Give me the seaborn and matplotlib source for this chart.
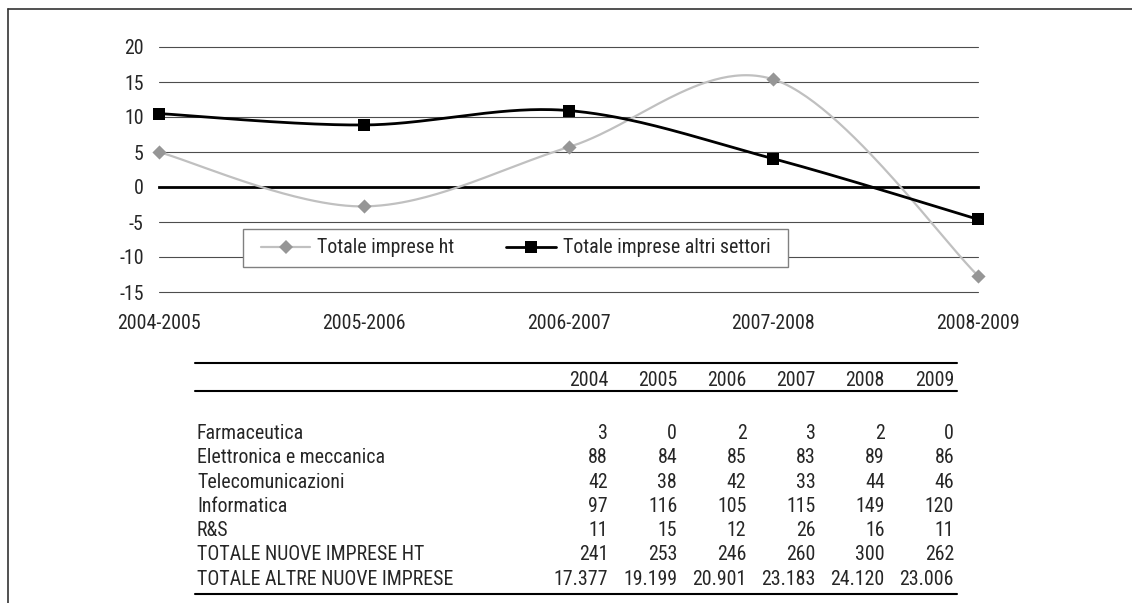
import numpy as np
import pandas as pd
import matplotlib
matplotlib.use("Agg")
import matplotlib.pyplot as plt
from matplotlib.lines import Line2D
from matplotlib.patches import Rectangle
import seaborn as sns

# Growth rates (%) of new firms, year over year
periods = ["2004-2005", "2005-2006", "2006-2007", "2007-2008", "2008-2009"]
ht_growth = [4.98, -2.77, 5.69, 15.38, -12.67]
other_growth = [10.49, 8.86, 10.92, 4.04, -4.62]
series_names = ["Totale imprese ht", "Totale imprese altri settori"]

# New firms by sector and year
years = ["2004", "2005", "2006", "2007", "2008", "2009"]
sectors = ["Farmaceutica", "Elettronica e meccanica", "Telecomunicazioni",
           "Informatica", "R&S", "TOTALE NUOVE IMPRESE HT",
           "TOTALE ALTRE NUOVE IMPRESE"]
farmaceutica = [3, 0, 2, 3, 2, 0]
elettronica = [88, 84, 85, 83, 89, 86]
telecomunicazioni = [42, 38, 42, 33, 44, 46]
informatica = [97, 116, 105, 115, 149, 120]
ricerca = [11, 15, 12, 26, 16, 11]
totale_ht = [241, 253, 246, 260, 300, 262]
totale_altre = [17377, 19199, 20901, 23183, 24120, 23006]
table_rows = [farmaceutica, elettronica, telecomunicazioni, informatica,
              ricerca, totale_ht, totale_altre]

W, H = 1132, 603
sns.set_style("white")
plt.rcParams["font.family"] = ["Roboto Condensed", "Liberation Sans", "DejaVu Sans"]
plt.rcParams["axes.unicode_minus"] = False
FS = 14.3


def fig_xy(x, y):
    return x / W, 1 - y / H


def smooth_curve(values, steps=60):
    """Cardinal (Catmull-Rom) Bezier through the points, like a smoothed line chart."""
    y = np.asarray(values, float)
    x = np.arange(len(y), dtype=float)
    px = np.concatenate([[x[0]], x, [x[-1]]])
    py = np.concatenate([[y[0]], y, [y[-1]]])
    t = np.linspace(0, 1, steps)[:, None]
    pts = []
    for i in range(len(y) - 1):
        p_prev = np.array([px[i], py[i]])
        p0 = np.array([px[i + 1], py[i + 1]])
        p1 = np.array([px[i + 2], py[i + 2]])
        p_next = np.array([px[i + 3], py[i + 3]])
        c1 = p0 + (p1 - p_prev) / 6
        c2 = p1 - (p_next - p0) / 6
        seg = ((1 - t) ** 3) * p0 + 3 * ((1 - t) ** 2) * t * c1 \
            + 3 * (1 - t) * t ** 2 * c2 + t ** 3 * p1
        pts.append(seg if i == 0 else seg[1:])
    pts = np.vstack(pts)
    return pd.DataFrame({"pos": pts[:, 0], "value": pts[:, 1]})


fig = plt.figure(figsize=(W / 100, H / 100), dpi=100)
ax = fig.add_axes([159 / W, 1 - 292 / H, (978 - 159) / W, (292 - 47) / H])

ht_color_line, ht_color_mark = "#c0c0c0", "#969696"
other_color = "#000000"

sns.lineplot(data=smooth_curve(ht_growth), x="pos", y="value", sort=False,
             estimator=None, color=ht_color_line, linewidth=1.6, ax=ax, zorder=3)
sns.lineplot(data=smooth_curve(other_growth), x="pos", y="value", sort=False,
             estimator=None, color=other_color, linewidth=2.0, ax=ax, zorder=4)
pos = np.arange(len(periods))
sns.scatterplot(x=pos, y=ht_growth, marker="D", s=52, color=ht_color_mark,
                linewidth=0, ax=ax, zorder=5, clip_on=False)
sns.scatterplot(x=pos, y=other_growth, marker="s", s=85, color=other_color,
                linewidth=0, ax=ax, zorder=6, clip_on=False)

ax.set_xlim(0, len(periods) - 1)
ax.set_ylim(-15, 20)
yt = list(range(-15, 25, 5))
ax.set_yticks(yt, labels=[str(v) for v in yt])
ax.yaxis.grid(True, color="#4d4d4d", linewidth=0.8)
for gl in ax.get_ygridlines():
    gl.set_clip_on(False)
ax.xaxis.grid(False)
ax.set_axisbelow(True)
ax.tick_params(axis="y", length=0, pad=11, labelsize=FS)
for side in ("left", "right", "top"):
    ax.spines[side].set_visible(False)
ax.spines["bottom"].set_position(("data", 0))
ax.spines["bottom"].set_color("black")
ax.spines["bottom"].set_linewidth(2)
ax.spines["bottom"].set_zorder(2.5)
ax.set_xticks(pos)
ax.tick_params(axis="x", direction="inout", length=14, width=2, color="black",
               labelbottom=False)
ax.set_xlabel("")
ax.set_ylabel("")

sec = ax.secondary_xaxis(0.0)
sec.set_xticks(pos, labels=periods)
sec.tick_params(length=0, pad=16, labelsize=FS)
for sp in sec.spines.values():
    sp.set_visible(False)

# Legend box
lx0, ly0 = fig_xy(243, 267)
lx1, ly1 = fig_xy(788, 229)
fig.add_artist(Rectangle((lx0, ly0), lx1 - lx0, ly1 - ly0, transform=fig.transFigure,
                         facecolor="white", edgecolor="#808080", linewidth=1, zorder=5))
handles = [
    Line2D([], [], color=ht_color_line, lw=1.6, marker="D", markersize=7.2,
           markerfacecolor=ht_color_mark, markeredgewidth=0),
    Line2D([], [], color=other_color, lw=2.0, marker="s", markersize=9.2,
           markerfacecolor=other_color, markeredgewidth=0),
]
fig.legend(handles, series_names, loc="center",
           bbox_to_anchor=((lx0 + lx1) / 2, (ly0 + ly1) / 2),
           ncol=2, frameon=False, fontsize=FS, handlelength=2.5,
           handletextpad=0.35, columnspacing=2.6, borderpad=0, borderaxespad=0)

# Outer frame (top and left edges)
fig.add_artist(Line2D([8 / W, 1], [1 - 9 / H] * 2, transform=fig.transFigure,
                      color="#333333", lw=1.2))
fig.add_artist(Line2D([8 / W, 8 / W], [0, 1 - 9 / H], transform=fig.transFigure,
                      color="#333333", lw=1.2))

# Data table
tx0, tx1 = 195, 957
for yy in (363, 391, 594):
    fig.add_artist(Line2D([tx0 / W, tx1 / W], [1 - yy / H] * 2,
                          transform=fig.transFigure, color="black", lw=1.5))
col_right = [608 + 69.2 * i for i in range(len(years))]
for xr, yr in zip(col_right, years):
    fig.text(*fig_xy(xr, 386), yr, ha="right", va="baseline", fontsize=FS)


def fmt(v):
    return f"{v:,}".replace(",", ".")


for r, (name, vals) in enumerate(zip(sectors, table_rows)):
    yb = 439 + 24.3 * r
    fig.text(*fig_xy(197, yb), name, ha="left", va="baseline", fontsize=FS)
    for xr, v in zip(col_right, vals):
        fig.text(*fig_xy(xr, yb), fmt(v), ha="right", va="baseline", fontsize=FS)

fig.savefig("out.png", dpi=100)
